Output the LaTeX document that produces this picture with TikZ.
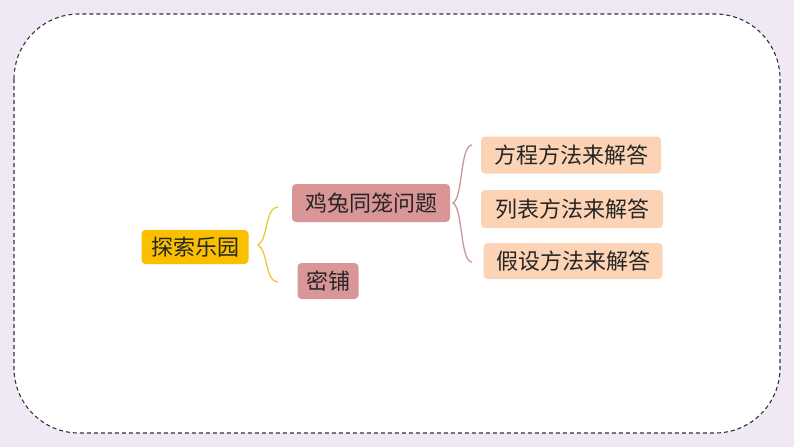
\documentclass[tikz,border=0pt]{standalone}
\usepackage{fontspec}
\setmainfont{Noto Sans CJK SC}
\definecolor{bg}{RGB}{240,232,245}
\definecolor{ylw}{RGB}{250,192,0}
\definecolor{rose}{RGB}{218,150,150}
\definecolor{peach}{RGB}{252,211,180}
\definecolor{ybrace}{RGB}{240,200,60}
\definecolor{rbrace}{RGB}{200,150,155}
\begin{document}
\begin{tikzpicture}[x=1pt,y=-1pt,
  box/.style={rounded corners=4pt,inner sep=0pt,font=\fontsize{22}{24}\selectfont,text=black!85},
  brace/.style={line width=1.3pt}]
\useasboundingbox (0,0) rectangle (794,447);
\fill[bg] (0,0) rectangle (794,447);
\draw[fill=white,draw=black!80,dash pattern=on 4pt off 3pt,line width=1.1pt,rounded corners=65pt] (14,14) rectangle (780,433);
\node[box,fill=ylw,minimum width=107pt,minimum height=34pt] (root) at (195,247) {探索乐园};
\node[box,fill=rose,minimum width=158pt,minimum height=38pt] (a) at (371,203) {鸡兔同笼问题};
\node[box,fill=rose,minimum width=61pt,minimum height=36pt] (b) at (328,281) {密铺};
\node[box,fill=peach,minimum width=180pt,minimum height=37pt] (c1) at (571,155) {方程方法来解答};
\node[box,fill=peach,minimum width=182pt,minimum height=38pt] (c2) at (572,209) {列表方法来解答};
\node[box,fill=peach,minimum width=179pt,minimum height=36pt] (c3) at (573,261) {假设方法来解答};
\coordinate (t1) at (258,245);
\coordinate (e1) at (278,207);
\coordinate (e2) at (278,282);
\draw[brace,ybrace] (e1) .. controls (265,207) and (268,240) .. (t1) .. controls (268,250) and (265,282) .. (e2);
\coordinate (t2) at (453,203);
\coordinate (f1) at (472,145);
\coordinate (f2) at (472,262);
\draw[brace,rbrace] (f1) .. controls (460,145) and (463,198) .. (t2) .. controls (463,208) and (460,262) .. (f2);
\end{tikzpicture}
\end{document}
